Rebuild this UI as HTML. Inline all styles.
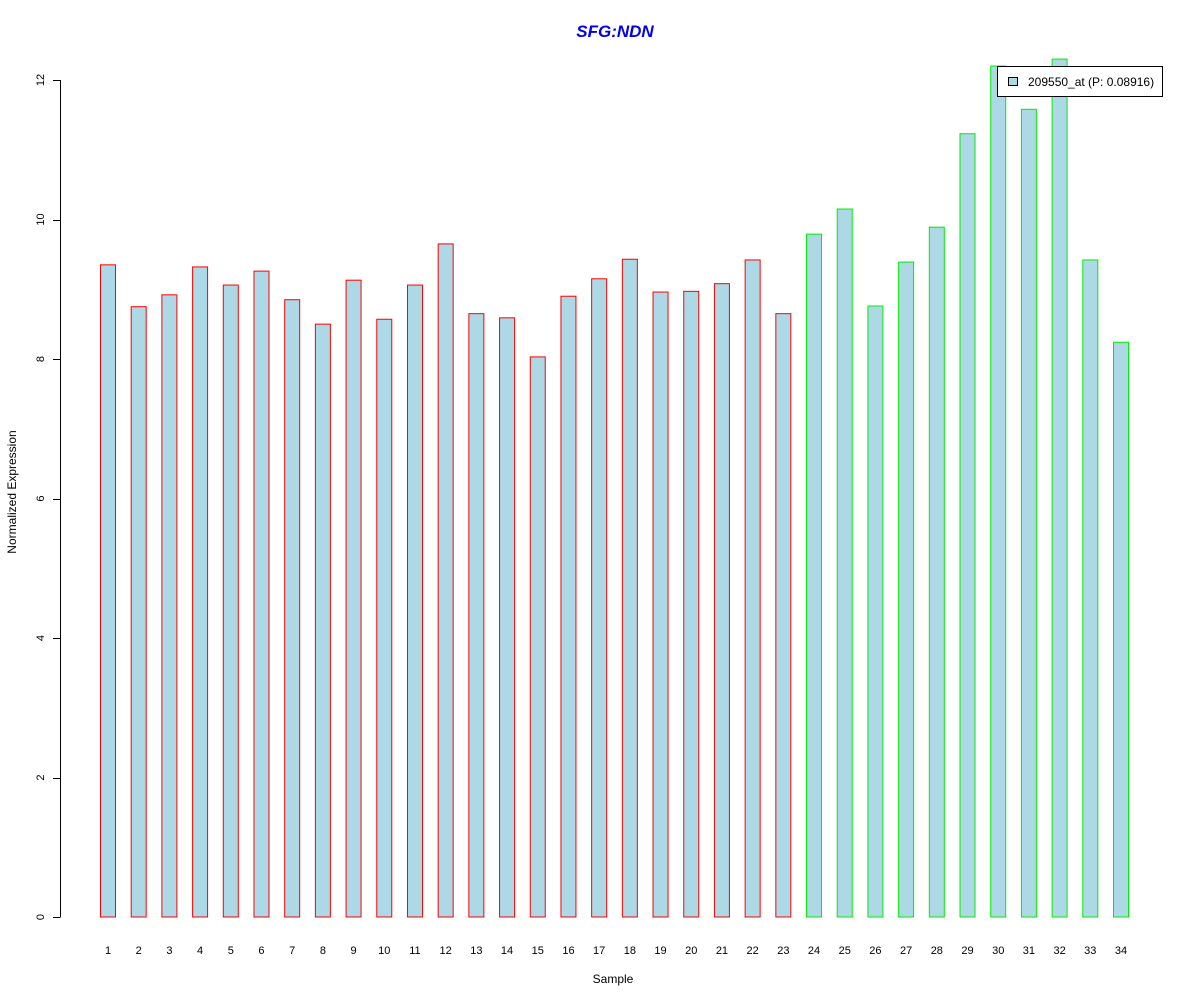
<!DOCTYPE html>
<html><head><meta charset="utf-8"><style>
body{margin:0;background:#fff}
svg text{font-family:"Liberation Sans",Arial,sans-serif}
</style></head><body>
<svg id="chart" width="1200" height="1000" xmlns="http://www.w3.org/2000/svg">
<rect width="1200" height="1000" fill="#fff"/>
<text x="615" y="37" text-anchor="middle" font-size="17" font-weight="bold" font-style="italic" fill="#0000ee">SFG:NDN</text>
<text x="613" y="983" text-anchor="middle" font-size="12">Sample</text>
<text transform="translate(16,492) rotate(-90)" text-anchor="middle" font-size="12">Normalized Expression</text>
<g id="bars"></g><g id="yaxis"></g><g id="xlabels"></g>
<g>
<rect x="997.5" y="66.5" width="165" height="30" fill="#fff" stroke="#000"/>
<rect x="1008.5" y="77.5" width="9" height="8" fill="#add8e6" stroke="#000"/>
<text x="1028" y="86" font-size="12">209550_at (P: 0.08916)</text>
</g>
</svg>
<script>
const categories=[1,2,3,4,5,6,7,8,9,10,11,12,13,14,15,16,17,18,19,20,21,22,23,24,25,26,27,28,29,30,31,32,33,34];
const values=[9.35,8.75,8.92,9.32,9.06,9.26,8.85,8.50,9.13,8.57,9.06,9.65,8.65,8.59,8.03,8.90,9.15,9.43,8.96,8.97,9.08,9.42,8.65,9.79,10.15,8.76,9.39,9.89,11.23,12.2,11.58,12.3,9.42,8.24];
const groups=["r","r","r","r","r","r","r","r","r","r","r","r","r","r","r","r","r","r","r","r","r","r","r","g","g","g","g","g","g","g","g","g","g","g"];
const yTicks=[0,2,4,6,8,10,12];
const NS="http://www.w3.org/2000/svg";
const y=v=>917-v*(837/12);
const x=i=>100+i*(1013/33);
const bars=document.getElementById('bars');
values.forEach((v,i)=>{
 const r=document.createElementNS(NS,'rect');
 r.setAttribute('x',x(i)+0.5);r.setAttribute('y',y(v));
 r.setAttribute('width',15);r.setAttribute('height',917-y(v));
 r.setAttribute('fill','#add8e6');r.setAttribute('stroke',groups[i]==='r'?'#ff0000':'#00ee00');
 
 
 bars.appendChild(r);
 const t=document.createElementNS(NS,'text');
 t.setAttribute('x',x(i)+8);t.setAttribute('y',954);t.setAttribute('font-size','11');t.setAttribute('text-anchor','middle');
 t.textContent=categories[i];
 
 
 document.getElementById('xlabels').appendChild(t);
});
const ya=document.getElementById('yaxis');
const l=document.createElementNS(NS,'line');
l.setAttribute('x1',60.5);l.setAttribute('x2',60.5);l.setAttribute('y1',y(12));l.setAttribute('y2',y(0));l.setAttribute('stroke','#000');


ya.appendChild(l);
yTicks.forEach(v=>{
 const tk=document.createElementNS(NS,'line');
 tk.setAttribute('x1',53);tk.setAttribute('x2',60.5);tk.setAttribute('y1',Math.round(y(v))+0.5);tk.setAttribute('y2',Math.round(y(v))+0.5);tk.setAttribute('stroke','#000');
 
 
 ya.appendChild(tk);
 const t=document.createElementNS(NS,'text');
 t.setAttribute('transform','translate(44,'+y(v)+') rotate(-90)');t.setAttribute('text-anchor','middle');t.setAttribute('font-size','11');
 t.textContent=v;
 
 
 ya.appendChild(t);
});
</script>
</body></html>
